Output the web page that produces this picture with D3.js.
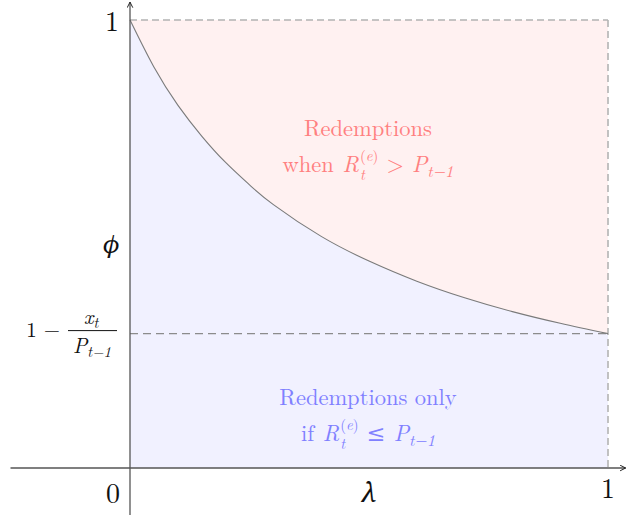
<!DOCTYPE html>
<html>
<head>
<meta charset="utf-8">
<script src="https://cdn.jsdelivr.net/npm/d3@7"></script>
<style>
  html, body { margin: 0; padding: 0; background: #fff; }
  svg { display: block; }
</style>
</head>
<body>
<svg id="chart" width="626" height="516"></svg>
<script>
// Threshold curve phi(lambda), sampled values
const lambdaValues = [0, 0.05, 0.1, 0.15, 0.2, 0.25, 0.3, 0.4, 0.5, 0.6, 0.7, 0.8, 0.9, 1.0];
const phiValues    = [1, 0.895, 0.81, 0.741, 0.682, 0.632, 0.588, 0.517, 0.462, 0.417, 0.38, 0.349, 0.323, 0.30];

// Horizontal reference level 1 - x_t / P_{t-1}
const floorLevel = 0.30;

// Axis extent (in data units)
const xDomain = [0, 1];
const yDomain = [0, 1];
const xAxisExtent = [-0.25, 1.037];
const yAxisExtent = [-0.105, 1.04];

const FONT = '"Latin Modern Roman", "CMU Serif", "Noto Serif", "DejaVu Serif", "Liberation Serif", "FreeSerif", "Nimbus Roman", serif';

const svg = d3.select("#chart").attr("font-family", FONT);
const x = d3.scaleLinear().domain(xDomain).range([130, 608]);
const y = d3.scaleLinear().domain(yDomain).range([468, 20]);

const curvePts = lambdaValues.map((l, i) => [l, phiValues[i]]);
const curveType = d3.curveNatural;

// Regions
const upper = d3.area()
  .x(d => x(d[0])).y0(y(1)).y1(d => y(d[1]))
  .curve(curveType);
const lower = d3.area()
  .x(d => x(d[0])).y0(y(0)).y1(d => y(d[1]))
  .curve(curveType);

svg.append("path").datum(curvePts).attr("d", upper).attr("fill", "#fff1f1");
svg.append("path").datum(curvePts).attr("d", lower).attr("fill", "#f1f1ff");

// Dashed frame lines
svg.append("line")
  .attr("x1", x(0)).attr("x2", x(1)).attr("y1", y(1)).attr("y2", y(1))
  .attr("stroke", "#b3b3b3").attr("stroke-width", 1.6).attr("stroke-dasharray", "7,4");
svg.append("line")
  .attr("x1", x(1)).attr("x2", x(1)).attr("y1", y(1)).attr("y2", y(0))
  .attr("stroke", "#b3b3b3").attr("stroke-width", 1.6).attr("stroke-dasharray", "7,4");
svg.append("line")
  .attr("x1", x(0)).attr("x2", x(1)).attr("y1", y(floorLevel)).attr("y2", y(floorLevel))
  .attr("stroke", "#8c8c8c").attr("stroke-width", 1.1).attr("stroke-dasharray", "8,5");

// Curve
svg.append("path").datum(curvePts)
  .attr("d", d3.line().x(d => x(d[0])).y(d => y(d[1])).curve(curveType))
  .attr("fill", "none").attr("stroke", "#7a7a7a").attr("stroke-width", 1.1);

// Axes with arrowheads
const defs = svg.append("defs");
defs.append("marker").attr("id", "arrow")
  .attr("viewBox", "0 0 10 10").attr("refX", 9).attr("refY", 5)
  .attr("markerWidth", 7).attr("markerHeight", 7).attr("orient", "auto")
  .attr("markerUnits", "userSpaceOnUse")
  .append("path").attr("d", "M1,1 L9,5 L1,9").attr("fill", "none")
  .attr("stroke", "#222").attr("stroke-width", 1.4);

svg.append("line")
  .attr("x1", x(xAxisExtent[0])).attr("x2", x(xAxisExtent[1]))
  .attr("y1", y(0)).attr("y2", y(0))
  .attr("stroke", "#555").attr("stroke-width", 1.3).attr("marker-end", "url(#arrow)");
svg.append("line")
  .attr("x1", x(0)).attr("x2", x(0))
  .attr("y1", y(yAxisExtent[0])).attr("y2", y(yAxisExtent[1]))
  .attr("stroke", "#555").attr("stroke-width", 1.3).attr("marker-end", "url(#arrow)");

// Tick labels
const tickLabels = [
  { t: "1", ax: "y", v: 1 },
  { t: "0", ax: "o", v: 0 },
  { t: "1", ax: "x", v: 1 }
];
tickLabels.forEach(d => {
  const el = svg.append("text").attr("font-size", 28).attr("fill", "#111").text(d.t);
  if (d.ax === "y") el.attr("x", x(0) - 11).attr("y", y(d.v) + 11).attr("text-anchor", "end");
  if (d.ax === "o") el.attr("x", x(0) - 10).attr("y", y(0) + 35).attr("text-anchor", "end");
  if (d.ax === "x") el.attr("x", x(d.v)).attr("y", y(0) + 30).attr("text-anchor", "middle");
});

// Axis titles
svg.append("text").attr("x", x(0.5)).attr("y", y(0) + 34)
  .attr("text-anchor", "middle").attr("font-size", 28).attr("font-style", "italic")
  .attr("fill", "#111").text("λ");
svg.append("text").attr("x", x(0) - 10).attr("y", y(0.48))
  .attr("text-anchor", "end").attr("font-size", 24).attr("font-style", "italic")
  .attr("fill", "#111").text("ϕ");

// Lay out a run of pieces left to right, centred on cx. Each piece:
// {t, size, it, dy, pre, post}, or a stacked script {sup, sub} sharing one column.
function mathLine(parent, cx, baseline, pieces, color, base) {
  const g = parent.append("g").attr("fill", color);
  let cursor = 0;
  const placed = [];
  pieces.forEach(p => {
    if (p.sup !== undefined) {
      const s1 = g.append("text").attr("font-size", base * 0.66)
        .attr("y", baseline - base * 0.48);
      p.sup.forEach(q => s1.append("tspan")
        .attr("font-style", q.it ? "italic" : "normal").text(q.t));
      const s2 = g.append("text").attr("font-size", base * 0.66).attr("font-style", "italic")
        .attr("y", baseline + base * 0.36).text(p.sub);
      const w = Math.max(s1.node().getComputedTextLength(), s2.node().getComputedTextLength());
      placed.push({ els: [s1, s2], x: cursor });
      cursor += w;
    } else {
      const el = g.append("text").attr("font-size", p.size ? base * p.size : base)
        .attr("font-style", p.it ? "italic" : "normal")
        .attr("y", baseline + (p.dy || 0) * base).text(p.t);
      placed.push({ els: [el], x: cursor + (p.pre || 0) * base });
      cursor += el.node().getComputedTextLength() + (p.pre || 0) * base + (p.post || 0) * base;
    }
  });
  const start = cx - cursor / 2;
  placed.forEach(p => p.els.forEach(e => e.attr("x", start + p.x)));
  return g;
}

// Floor level label: 1 − x_t / P_{t−1}
const fy = y(floorLevel);
svg.append("text").attr("x", 60).attr("y", fy + 3).attr("text-anchor", "end")
  .attr("font-size", 21).attr("fill", "#111").text("1 −");
svg.append("line").attr("x1", 68).attr("x2", 117).attr("y1", fy - 3).attr("y2", fy - 3)
  .attr("stroke", "#111").attr("stroke-width", 1);
mathLine(svg, 91, fy - 10, [
  { t: "x", it: true },
  { t: "t", it: true, size: 0.7, dy: 0.2 }
], "#111", 21);
mathLine(svg, 92, fy + 19, [
  { t: "P", it: true },
  { t: "t−1", it: true, size: 0.7, dy: 0.2 }
], "#111", 21);

// Region annotations
const regionTitles = ["Redemptions", "Redemptions only"];
const regionPrefixes = ["when", "if"];
const regionRelations = [">", "≤"];
const regionColors = ["#ff8080", "#8080ff"];
const regionBaselines = [136, 405];

regionTitles.forEach((title, i) => {
  const base = 22.5;
  svg.append("text").attr("x", x(0.5) - 1).attr("y", regionBaselines[i])
    .attr("text-anchor", "middle").attr("font-size", base)
    .attr("fill", regionColors[i]).text(title);
  mathLine(svg, x(0.5) - 1, regionBaselines[i] + 36, [
    { t: regionPrefixes[i], post: 0.38 },
    { t: "R", it: true, post: 0.05 },
    { sup: [{ t: "(" }, { t: "e", it: true }, { t: ")" }], sub: "t" },
    { t: regionRelations[i], pre: 0.36, post: 0.36 },
    { t: "P", it: true },
    { t: "t−1", it: true, size: 0.72, dy: 0.2 }
  ], regionColors[i], base);
});
</script>
</body>
</html>
